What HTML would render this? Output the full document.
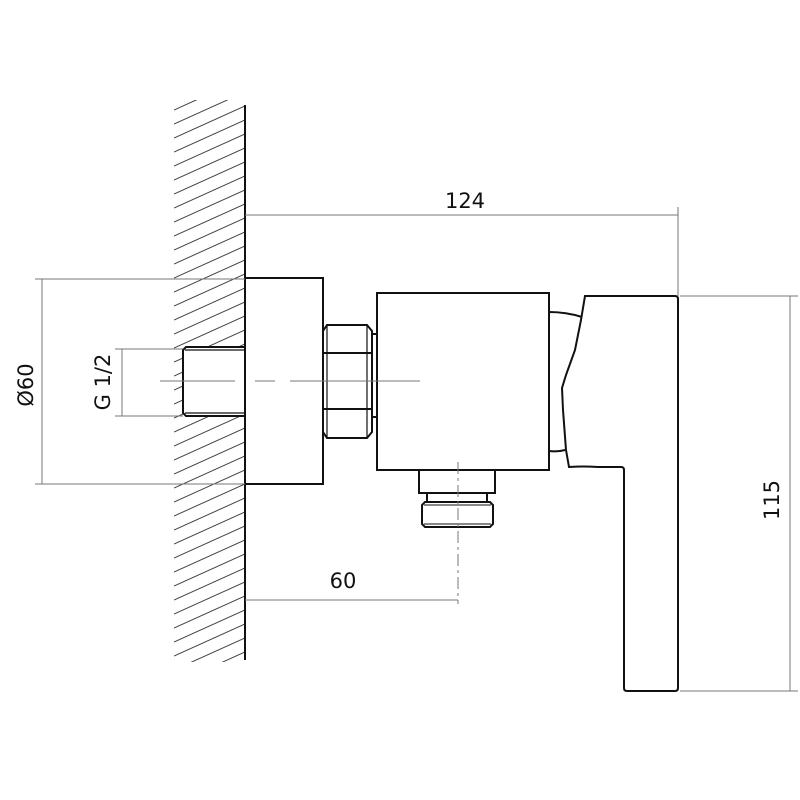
<!DOCTYPE html>
<html><head><meta charset="utf-8"><style>html,body{margin:0;padding:0;background:#fff}svg{display:block}</style></head>
<body>
<svg width="800" height="800" viewBox="0 0 800 800" xmlns="http://www.w3.org/2000/svg">
<defs><clipPath id="h"><rect x="174" y="100" width="71" height="562"/></clipPath></defs>
<g clip-path="url(#h)" stroke="#444" stroke-width="1" fill="none">
<path d="M174,110 l71,-32 M174,124 l71,-32 M174,138 l71,-32 M174,152 l71,-32 M174,166 l71,-32 M174,180 l71,-32 M174,194 l71,-32 M174,208 l71,-32 M174,222 l71,-32 M174,236 l71,-32 M174,250 l71,-32 M174,264 l71,-32 M174,278 l71,-32 M174,292 l71,-32 M174,306 l71,-32 M174,320 l71,-32 M174,334 l71,-32 M174,348 l71,-32 M174,362 l71,-32 M174,376 l71,-32 M174,390 l71,-32 M174,404 l71,-32 M174,418 l71,-32 M174,432 l71,-32 M174,446 l71,-32 M174,460 l71,-32 M174,474 l71,-32 M174,488 l71,-32 M174,502 l71,-32 M174,516 l71,-32 M174,530 l71,-32 M174,544 l71,-32 M174,558 l71,-32 M174,572 l71,-32 M174,586 l71,-32 M174,600 l71,-32 M174,614 l71,-32 M174,628 l71,-32 M174,642 l71,-32 M174,656 l71,-32 M174,670 l71,-32 M174,684 l71,-32 M174,698 l71,-32"/>
</g>
<rect x="183" y="347" width="62" height="69" fill="#fff" stroke="none"/>
<g fill="none" stroke="#111" stroke-width="2">
<line x1="245" y1="105" x2="245" y2="660"/>
<rect x="245" y="278" width="78" height="206" fill="#fff"/>
<path d="M245,347 H186 L183,350 V413 L186,416 H245"/>
<line x1="185" y1="350" x2="245" y2="350" stroke-width="1.2"/>
<line x1="185" y1="413" x2="245" y2="413" stroke-width="1.2"/>
<path d="M327,325 H367 L372,331 V432 L367,438 H327 L323,432 V331 Z" fill="#fff"/>
<line x1="323" y1="353" x2="372" y2="353"/>
<line x1="323" y1="409" x2="372" y2="409"/>
<line x1="327" y1="325" x2="327" y2="438" stroke-width="1.2"/>
<line x1="367" y1="325" x2="367" y2="438" stroke-width="1.2"/>
<rect x="372" y="334" width="5" height="83"/>
<rect x="377" y="293" width="172" height="177" fill="#fff"/>
<path d="M549,312 Q566,312 582,317"/>
<path d="M549,451 Q558,452 565,450"/>
<path d="M585,296 H675 Q678,296 678,299 V688 Q678,691 675,691 H627 Q624,691 624,688 V470 Q624,467 621,467 H598 Q583,466 569,467 L566,450 L563,410 L562,388 L566,375 L575,350 L581,320 Z" fill="#fff"/>
<path d="M419,470 V493 H495 V470"/>
<rect x="427" y="493" width="60" height="9"/>
<path d="M425,502 H490 L493,505 V524 L490,527 H425 L422,524 V505 Z"/>
<line x1="424" y1="505" x2="491" y2="505" stroke-width="1"/>
<line x1="424" y1="524" x2="491" y2="524" stroke-width="1"/>
</g>
<g stroke="#777" stroke-width="1" fill="none">
<path d="M160,381 H235 M255,381 H275 M290,381 H420" />
<path d="M458,462 V604" stroke-dasharray="12,4,3,4"/>
<line x1="245" y1="215" x2="678" y2="215"/>
<line x1="678" y1="207" x2="678" y2="296"/>
<line x1="680" y1="296" x2="798" y2="296"/>
<line x1="680" y1="691" x2="798" y2="691"/>
<line x1="790" y1="296" x2="790" y2="691"/>
<line x1="35" y1="279" x2="245" y2="279"/>
<line x1="35" y1="484" x2="245" y2="484"/>
<line x1="42" y1="279" x2="42" y2="484"/>
<line x1="115" y1="349" x2="183" y2="349"/>
<line x1="115" y1="416" x2="183" y2="416"/>
<line x1="122" y1="349" x2="122" y2="416"/>
<line x1="245" y1="600" x2="458" y2="600"/>
</g>
<g font-family="'DejaVu Sans','Liberation Sans',sans-serif" font-size="21" fill="#111" text-anchor="middle">
<text x="465" y="208">124</text>
<text x="343" y="588">60</text>
<text transform="translate(779,500) rotate(-90)">115</text>
<text transform="translate(33,385) rotate(-90)">Ø60</text>
<text transform="translate(110,382) rotate(-90)">G 1/2</text>
</g>
</svg>
</body></html>
